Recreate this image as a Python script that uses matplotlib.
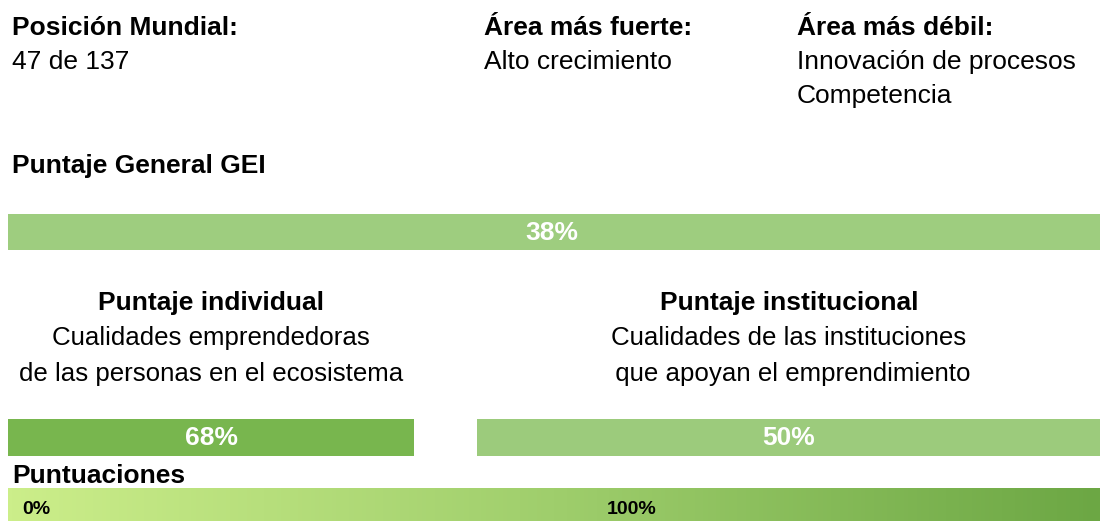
import numpy as np
import matplotlib.pyplot as plt
from matplotlib.colors import LinearSegmentedColormap

plt.rcParams['font.family'] = ['Liberation Sans', 'DejaVu Sans']

# datos
posicion = 47
total_paises = 137
area_fuerte = ['Alto crecimiento']
area_debil = ['Innovación de procesos', 'Competencia']
puntaje_general = 38
subindices = ['Puntaje individual', 'Puntaje institucional']
subindice_desc = [['Cualidades emprendedoras', 'de las personas en el ecosistema'],
                  ['Cualidades de las instituciones', ' que apoyan el emprendimiento']]
subindice_valores = [68, 50]
escala_etiquetas = ['0%', '100%']

W, H = 1100, 521
fig = plt.figure(figsize=(W / 100, H / 100), dpi=100)
ax = fig.add_axes([0, 0, 1, 1])
ax.set_xlim(0, W)
ax.set_ylim(H, 0)
ax.axis('off')

fs = 19

# encabezado
ax.text(12, 35, 'Posición Mundial:', fontsize=fs, fontweight='bold', va='baseline')
ax.text(12, 69, f'{posicion} de {total_paises}', fontsize=fs, va='baseline')
ax.text(484, 35, 'Área más fuerte:', fontsize=fs, fontweight='bold', va='baseline')
for i, t in enumerate(area_fuerte):
    ax.text(484, 69 + i * 34, t, fontsize=fs, va='baseline')
ax.text(797, 35, 'Área más débil:', fontsize=fs, fontweight='bold', va='baseline')
for i, t in enumerate(area_debil):
    ax.text(797, 69 + i * 34, t, fontsize=fs, va='baseline')

# puntaje general
ax.text(12, 173, 'Puntaje General GEI', fontsize=fs, fontweight='bold', va='baseline')
ax.barh([232], [W - 8], left=8, height=36, color='#9ECD7F')
ax.text(552, 233, f'{puntaje_general}%', fontsize=fs, fontweight='bold',
        color='white', ha='center', va='center')

# subindices
centros = [211, 789]
lefts = [8, 477]
rights = [414, W]
colores = ['#78B64E', '#9CCB7C']
for k in range(2):
    ax.text(centros[k], 310, subindices[k], fontsize=fs, fontweight='bold',
            ha='center', va='baseline')
    for j, t in enumerate(subindice_desc[k]):
        ax.text(centros[k], 345 + j * 36, t, fontsize=18.6, ha='center', va='baseline')
    ax.barh([437.5], [rights[k] - lefts[k]], left=lefts[k], height=37, color=colores[k])
    ax.text((lefts[k] + rights[k]) / 2, 438, f'{subindice_valores[k]}%', fontsize=fs,
            fontweight='bold', color='white', ha='center', va='center')

# escala de puntuaciones
ax.text(12, 483, 'Puntuaciones', fontsize=fs, fontweight='bold', va='baseline')
cmap = LinearSegmentedColormap.from_list('g', ['#CCEE8A', '#9FCE6C', '#6CA744'])
grad = np.linspace(0, 1, 256).reshape(1, -1)
ax.imshow(grad, cmap=cmap, extent=[8, W, H, 488], aspect='auto', zorder=1)
ax.set_xlim(0, W)
ax.set_ylim(H, 0)
ax.text(22, 509, escala_etiquetas[0], fontsize=14, fontweight='bold', va='center', zorder=2)
ax.text(607, 509, escala_etiquetas[1], fontsize=14, fontweight='bold', va='center', zorder=2)

fig.savefig('out.png', dpi=100)
